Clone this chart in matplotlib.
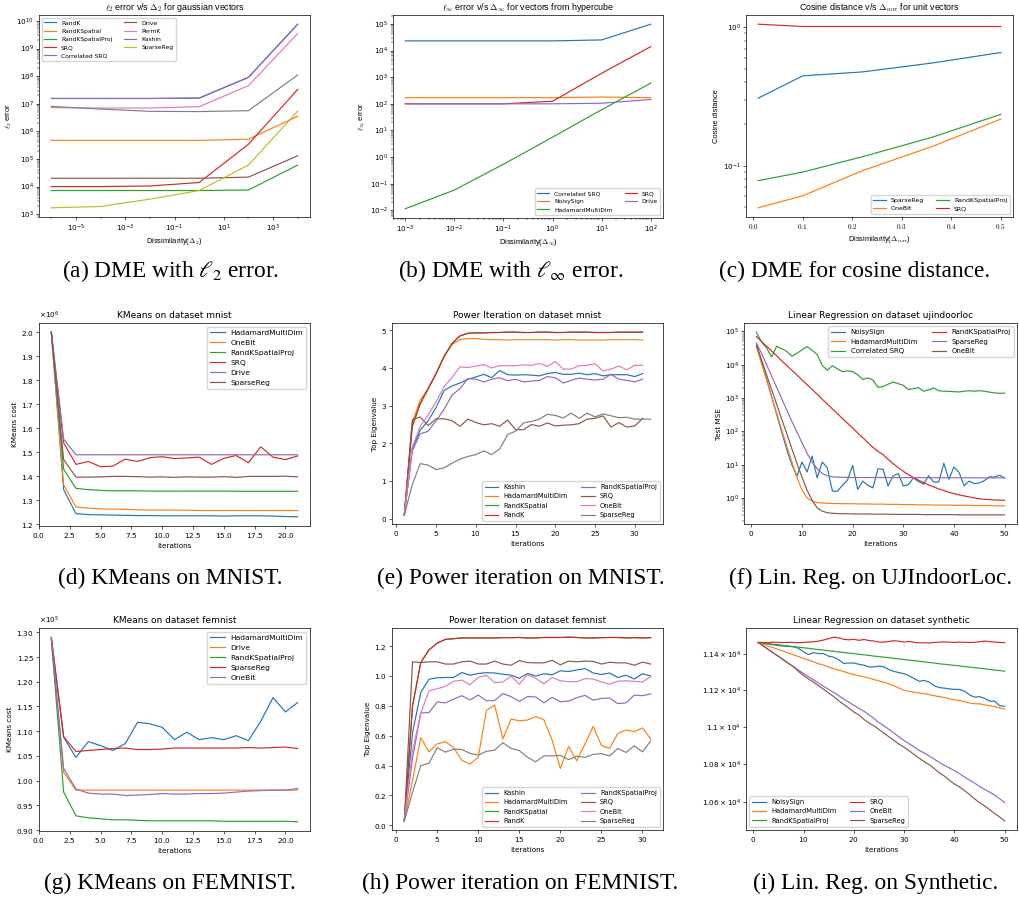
import matplotlib
matplotlib.use("Agg")
import matplotlib.pyplot as plt
from matplotlib.ticker import (LogLocator, NullFormatter, FixedLocator,
                               FixedFormatter, NullLocator, FuncFormatter)

# ---------------- data ----------------
# (a) l2 error vs Delta_2
a_x = [1e-6, 1e-4, 1e-2, 1e0, 1e2, 1e4]
a_names = ["RandK", "RandKSpatial", "RandKSpatialProj", "SRQ", "Correlated SRQ",
           "Drive", "PermK", "Kashin", "SparseReg"]
a_randk = [1.55e7, 1.55e7, 1.55e7, 1.6e7, 9e7, 7.6e9]
a_randkspatial = [4.7e5, 4.7e5, 4.7e5, 4.7e5, 5.2e5, 3.5e6]
a_randkspatialproj = [7.2e3, 7.2e3, 7.2e3, 7.2e3, 7.5e3, 6e4]
a_srq = [1.0e4, 1.0e4, 1.05e4, 1.4e4, 3.4e5, 3.3e7]
a_corr_srq = [1.55e7, 1.55e7, 1.55e7, 1.6e7, 9e7, 7.6e9]
a_drive = [2e4, 2e4, 2e4, 2e4, 2.2e4, 1.3e5]
a_permk = [7.2e6, 7.0e6, 7.0e6, 7.8e6, 4.5e7, 3.5e9]
a_kashin = [8e6, 6.4e6, 5.3e6, 5.2e6, 5.6e6, 1.1e8]
a_sparsereg = [1.7e3, 1.9e3, 3.5e3, 7.2e3, 6e4, 5.4e6]
a_xticks = [1e-5, 1e-3, 1e-1, 1e1, 1e3]

# (b) l_inf error vs Delta_inf
b_x = [1e-3, 1e-2, 1e-1, 1e0, 1e1, 1e2]
b_names = ["Correlated SRQ", "NoisySign", "HadamardMultiDim", "SRQ", "Drive"]
b_corr_srq = [2.3e4, 2.3e4, 2.3e4, 2.3e4, 2.5e4, 9.7e4]
b_noisysign = [170, 170, 170, 170, 180, 170]
b_hadamard = [0.0115, 0.058, 0.54, 5.6, 60, 600]
b_srq = [100, 100, 100, 125, 1400, 1.4e4]
b_drive = [100, 100, 100, 100, 105, 145]

# (c) cosine distance
c_x = [0.01, 0.1, 0.22, 0.36, 0.5]
c_names = ["SparseReg", "OneBit", "RandKSpatialProj", "SRQ"]
c_sparsereg = [0.307, 0.445, 0.475, 0.55, 0.656]
c_onebit = [0.0497, 0.0607, 0.092, 0.137, 0.217]
c_randkspatialproj = [0.078, 0.090, 0.116, 0.160, 0.235]
c_srq = [1.05, 1.01, 1.01, 1.01, 1.01]

# (d) KMeans mnist (x 1e6)
d_scale = 1e6
d_x = list(range(1, 22))
d_names = ["HadamardMultiDim", "OneBit", "RandKSpatialProj", "SRQ", "Drive", "SparseReg"]
d_hadamard = [2.0, 1.345, 1.245, 1.241, 1.24, 1.239, 1.238, 1.237, 1.237, 1.236, 1.236,
              1.236, 1.236, 1.236, 1.235, 1.236, 1.236, 1.236, 1.235, 1.233, 1.232]
d_onebit = [2.0, 1.365, 1.273, 1.268, 1.265, 1.264, 1.263, 1.261, 1.26, 1.26, 1.26,
            1.259, 1.258, 1.258, 1.258, 1.258, 1.258, 1.258, 1.258, 1.258, 1.258]
d_randkspatialproj = [2.0, 1.43, 1.35, 1.345, 1.342, 1.34, 1.34, 1.34, 1.339, 1.339, 1.339,
                      1.339, 1.339, 1.339, 1.339, 1.338, 1.338, 1.338, 1.338, 1.338, 1.338]
d_srq = [2.0, 1.54, 1.45, 1.462, 1.44, 1.443, 1.472, 1.462, 1.478, 1.482, 1.474,
         1.477, 1.48, 1.45, 1.475, 1.487, 1.457, 1.523, 1.48, 1.47, 1.485]
d_drive = [2.0, 1.555, 1.49, 1.49, 1.49, 1.49, 1.49, 1.49, 1.49, 1.49, 1.49,
           1.49, 1.49, 1.49, 1.49, 1.49, 1.49, 1.49, 1.49, 1.49, 1.49]
d_sparsereg = [2.0, 1.47, 1.397, 1.397, 1.398, 1.4, 1.4, 1.399, 1.397, 1.398, 1.396,
               1.398, 1.397, 1.397, 1.399, 1.396, 1.4, 1.4, 1.4, 1.401, 1.398]

# (e) Power iteration mnist
e_x = list(range(1, 32))
e_x_sparse = list(range(1, 33))
e_names = ["Kashin", "HadamardMultiDim", "RandKSpatial", "RandK",
           "RandKSpatialProj", "SRQ", "OneBit", "SparseReg"]
e_kashin = [0.1, 1.85, 2.35, 2.6, 2.95, 3.4, 3.52, 3.6, 3.7, 3.76, 3.83, 3.74, 3.93, 3.82,
            3.81, 3.82, 3.81, 3.79, 3.85, 3.88, 3.83, 3.83, 3.86, 3.82, 3.85, 3.79, 3.82,
            3.82, 3.82, 3.77, 3.85]
e_hadamard = [0.1, 2.55, 3.15, 3.45, 3.85, 4.3, 4.62, 4.75, 4.78, 4.78, 4.76, 4.75, 4.75,
              4.74, 4.75, 4.75, 4.75, 4.75, 4.75, 4.74, 4.75, 4.75, 4.74, 4.74, 4.74, 4.74,
              4.75, 4.75, 4.75, 4.75, 4.74]
e_randkspatial = [0.1, 2.45, 3.05, 3.45, 3.85, 4.3, 4.65, 4.85, 4.92, 4.93, 4.93, 4.94, 4.94,
                  4.95, 4.95, 4.94, 4.94, 4.95, 4.95, 4.94, 4.94, 4.95, 4.95, 4.95, 4.94,
                  4.94, 4.94, 4.95, 4.95, 4.95, 4.95]
e_randk = [0.1, 2.45, 3.05, 3.45, 3.85, 4.3, 4.65, 4.85, 4.92, 4.93, 4.93, 4.94, 4.94,
           4.95, 4.95, 4.94, 4.94, 4.95, 4.95, 4.94, 4.94, 4.95, 4.95, 4.95, 4.94,
           4.94, 4.94, 4.95, 4.95, 4.95, 4.95]
e_randkspatialproj = [0.1, 1.8, 2.25, 2.32, 2.6, 2.9, 3.28, 3.45, 3.72, 3.7, 3.63, 3.7, 3.74,
                      3.66, 3.7, 3.63, 3.65, 3.67, 3.77, 3.74, 3.6, 3.67, 3.73, 3.7, 3.68,
                      3.7, 3.83, 3.7, 3.67, 3.63, 3.7]
e_srq = [0.1, 2.62, 2.7, 2.47, 2.65, 2.65, 2.6, 2.45, 2.64, 2.55, 2.49, 2.52, 2.45, 2.62,
         2.36, 2.36, 2.5, 2.45, 2.54, 2.46, 2.48, 2.49, 2.52, 2.64, 2.66, 2.73, 2.43, 2.55,
         2.43, 2.46, 2.66]
e_onebit = [0.1, 1.9, 2.45, 2.75, 3.1, 3.5, 3.75, 4.03, 4.01, 4.05, 4.09, 4.0, 4.06, 4.06,
            4.06, 4.08, 4.07, 4.12, 4.04, 4.17, 3.97, 3.97, 4.06, 4.07, 4.11, 3.92, 3.97,
            4.05, 3.95, 4.07, 4.07]
e_sparsereg = [0.1, 0.9, 1.46, 1.42, 1.3, 1.35, 1.47, 1.58, 1.65, 1.7, 1.8, 1.7, 1.85, 2.23,
               2.32, 2.54, 2.58, 2.64, 2.77, 2.74, 2.67, 2.8, 2.66, 2.8, 2.7, 2.78, 2.73,
               2.68, 2.69, 2.64, 2.64, 2.64]

# (f) Linear regression ujindoorloc
f_x = list(range(1, 51))
f_names = ["NoisySign", "HadamardMultiDim", "Correlated SRQ",
           "RandKSpatialProj", "SparseReg", "OneBit"]
f_noisysign = [4.2e4, 1.3e4, 3.8e3, 1.1e3, 320, 95, 28, 10, 4.5, 12, 6, 18, 4, 12, 8, 1.6,
               1.6, 2.4, 3.5, 9.5, 1.8, 3.2, 2.4, 2.0, 7.5, 7.2, 2.3, 4.6, 5.4, 2.3, 2.5,
               4.0, 3.1, 2.6, 4.6, 3.0, 3.0, 11, 3.6, 8.5, 5.9, 2.3, 3.2, 2.7, 2.8, 3.3,
               4.3, 4.2, 4.8, 4.0]
f_hadamard = [3.5e4, 1.1e4, 3.5e3, 1.1e3, 350, 110, 36, 12, 4.2, 1.7, 1.0, 0.8, 0.73, 0.7,
              0.69, 0.68, 0.68, 0.67, 0.67, 0.67, 0.66, 0.66, 0.66, 0.65, 0.65, 0.65, 0.64,
              0.64, 0.64, 0.63, 0.63, 0.63, 0.62, 0.62, 0.62, 0.61, 0.61, 0.61, 0.61, 0.6,
              0.6, 0.6, 0.6, 0.59, 0.59, 0.59, 0.59, 0.58, 0.58, 0.58]
f_corr_srq = [9.5e4, 4.8e4, 3.2e4, 1.7e4, 3.6e4, 3.0e4, 2.5e4, 1.8e4, 2.2e4, 2.8e4, 3.5e4,
              2.7e4, 2.0e4, 9.5e3, 6.8e3, 9.3e3, 7.5e3, 6.2e3, 6.5e3, 6.2e3, 5.0e3, 3.6e3,
              4.0e3, 3.5e3, 2.1e3, 2.2e3, 2.6e3, 3.0e3, 2.7e3, 2.4e3, 1.8e3, 1.9e3, 2.05e3,
              1.6e3, 1.75e3, 2.0e3, 1.65e3, 1.6e3, 1.58e3, 1.55e3, 1.52e3, 1.6e3, 1.65e3,
              1.6e3, 1.65e3, 1.6e3, 1.5e3, 1.42e3, 1.38e3, 1.4e3]
f_randkspatialproj = [7.0e4, 5.0e4, 3.6e4, 2.6e4, 1.85e4, 1.3e4, 9.5e3, 6.8e3, 4.9e3, 3.5e3,
                      2.5e3, 1.8e3, 1.3e3, 920, 660, 470, 340, 240, 175, 125, 89, 64, 46,
                      33, 25, 20, 14.5, 10.7, 8.1, 6.3, 5.0, 4.1, 3.4, 2.9, 2.45, 2.15, 1.86,
                      1.66, 1.48, 1.35, 1.23, 1.15, 1.07, 1.0, 0.95, 0.91, 0.89, 0.87, 0.86,
                      0.85]
f_sparsereg = [4.5e4, 2.2e4, 1.0e4, 4.6e3, 2.1e3, 950, 430, 200, 95, 45, 22, 12, 7.5, 5.4,
               4.6, 4.3, 4.2, 4.15, 4.12, 4.1, 4.1, 4.1, 4.1, 4.1, 4.1, 4.09, 4.09, 4.08,
               4.08, 4.08, 4.07, 4.07, 4.06, 4.06, 4.05, 4.05, 4.05, 4.04, 4.04, 4.03, 4.03,
               4.03, 4.02, 4.02, 4.01, 4.01, 4.01, 4.0, 4.0, 4.0]
f_onebit = [3.8e4, 1.4e4, 5e3, 1.8e3, 650, 230, 85, 30, 11, 4.2, 1.7, 0.85, 0.5, 0.4, 0.36,
            0.345, 0.34, 0.335, 0.335, 0.33, 0.33, 0.33, 0.33, 0.325, 0.325, 0.325, 0.325,
            0.32, 0.32, 0.32, 0.32, 0.32, 0.32, 0.315, 0.315, 0.315, 0.315, 0.315, 0.315,
            0.315, 0.31, 0.31, 0.31, 0.31, 0.31, 0.31, 0.31, 0.31, 0.31, 0.31]

# (g) KMeans femnist (x 1e5)
g_scale = 1e5
g_x = list(range(1, 22))
g_names = ["HadamardMultiDim", "Drive", "RandKSpatialProj", "SparseReg", "OneBit"]
g_hadamard = [1.289, 1.088, 1.047, 1.079, 1.071, 1.061, 1.075, 1.118, 1.115, 1.108, 1.083,
              1.098, 1.083, 1.087, 1.083, 1.091, 1.081, 1.12, 1.168, 1.139, 1.158]
g_drive = [1.288, 1.017, 0.981, 0.981, 0.981, 0.981, 0.981, 0.981, 0.981, 0.981, 0.981,
           0.981, 0.981, 0.981, 0.981, 0.981, 0.981, 0.981, 0.981, 0.981, 0.981]
g_randkspatialproj = [1.285, 0.977, 0.929, 0.925, 0.923, 0.921, 0.921, 0.92, 0.919, 0.919,
                      0.919, 0.919, 0.919, 0.919, 0.918, 0.918, 0.918, 0.918, 0.918, 0.918,
                      0.917]
g_sparsereg = [1.29, 1.089, 1.059, 1.061, 1.063, 1.065, 1.066, 1.063, 1.063, 1.064, 1.066,
               1.066, 1.066, 1.066, 1.066, 1.066, 1.067, 1.066, 1.067, 1.068, 1.065]
g_onebit = [1.289, 1.025, 0.983, 0.975, 0.973, 0.973, 0.97, 0.971, 0.972, 0.974, 0.973,
            0.973, 0.974, 0.974, 0.975, 0.977, 0.979, 0.98, 0.981, 0.981, 0.984]

# (h) Power iteration femnist
h_x = list(range(1, 32))
h_names = ["Kashin", "HadamardMultiDim", "RandKSpatial", "RandK",
           "RandKSpatialProj", "SRQ", "OneBit", "SparseReg"]
h_kashin = [0.03, 0.62, 0.89, 0.978, 0.988, 0.99, 0.99, 1.023, 1.005, 1.017, 1.022, 1.02,
            1.012, 1.006, 0.985, 1.017, 1.0, 1.015, 1.008, 1.035, 1.03, 1.04, 1.05, 1.02,
            1.01, 1.02, 0.99, 1.005, 0.98, 1.015, 1.0]
h_hadamard = [0.03, 0.3, 0.587, 0.493, 0.545, 0.56, 0.52, 0.435, 0.41, 0.455, 0.77, 0.805,
              0.578, 0.712, 0.7, 0.705, 0.728, 0.707, 0.57, 0.38, 0.528, 0.432, 0.545, 0.662,
              0.535, 0.515, 0.615, 0.638, 0.628, 0.652, 0.578]
h_randkspatial = [0.03, 0.8, 1.09, 1.175, 1.22, 1.245, 1.25, 1.255, 1.255, 1.255, 1.255,
                  1.255, 1.257, 1.257, 1.258, 1.255, 1.255, 1.258, 1.258, 1.258, 1.26, 1.258,
                  1.255, 1.255, 1.257, 1.258, 1.258, 1.255, 1.257, 1.255, 1.257]
h_randk = [0.03, 0.8, 1.09, 1.175, 1.22, 1.245, 1.25, 1.255, 1.255, 1.255, 1.255,
           1.255, 1.257, 1.257, 1.258, 1.255, 1.255, 1.258, 1.258, 1.258, 1.26, 1.258,
           1.255, 1.255, 1.257, 1.258, 1.258, 1.255, 1.257, 1.255, 1.257]
h_randkspatialproj = [0.03, 0.45, 0.752, 0.755, 0.826, 0.82, 0.845, 0.868, 0.84, 0.872,
                      0.834, 0.836, 0.882, 0.862, 0.83, 0.862, 0.86, 0.82, 0.857, 0.828,
                      0.832, 0.855, 0.87, 0.838, 0.85, 0.852, 0.815, 0.82, 0.872, 0.868,
                      0.88]
h_srq = [0.03, 1.095, 1.09, 1.095, 1.095, 1.08, 1.08, 1.095, 1.1, 1.08, 1.08, 1.1, 1.08,
         1.072, 1.103, 1.09, 1.088, 1.088, 1.105, 1.075, 1.1, 1.095, 1.1, 1.098, 1.08,
         1.092, 1.088, 1.088, 1.072, 1.093, 1.08]
h_onebit = [0.03, 0.5, 0.75, 0.9, 0.915, 0.93, 0.965, 0.972, 0.942, 0.99, 1.005, 0.955,
            0.96, 1.0, 0.945, 1.01, 0.985, 0.948, 0.99, 0.968, 0.962, 0.962, 0.982, 0.98,
            0.96, 0.945, 0.965, 0.968, 0.964, 0.96, 0.995]
h_sparsereg = [0.03, 0.22, 0.4, 0.415, 0.52, 0.49, 0.51, 0.508, 0.482, 0.47, 0.496, 0.503,
               0.553, 0.515, 0.5, 0.456, 0.425, 0.465, 0.465, 0.468, 0.44, 0.462, 0.455,
               0.475, 0.48, 0.465, 0.515, 0.488, 0.532, 0.492, 0.565]

# (i) Linear regression synthetic
i_x = list(range(1, 51))
i_names = ["NoisySign", "HadamardMultiDim", "RandKSpatialProj", "SRQ", "OneBit", "SparseReg"]
i_noisysign = [11465, 11462, 11460, 11455, 11450, 11448, 11446, 11443, 11435, 11415, 11400,
               11410, 11405, 11405, 11390, 11385, 11370, 11350, 11352, 11352, 11345, 11340,
               11330, 11330, 11335, 11330, 11315, 11305, 11298, 11292, 11280, 11265, 11250,
               11255, 11245, 11225, 11215, 11212, 11208, 11205, 11205, 11195, 11175, 11162,
               11165, 11155, 11140, 11140, 11115, 11112]
i_hadamard = [11468, 11458, 11448, 11438, 11428, 11418, 11408, 11398, 11388, 11378, 11368,
              11358, 11348, 11340, 11330, 11320, 11312, 11304, 11295, 11287, 11281, 11275,
              11268, 11260, 11252, 11245, 11235, 11225, 11212, 11200, 11194, 11190, 11185,
              11181, 11176, 11170, 11165, 11160, 11154, 11148, 11143, 11137, 11130, 11126,
              11125, 11120, 11115, 11110, 11103, 11096]
i_randkspatialproj = [11468, 11465, 11461, 11458, 11455, 11451, 11448, 11445, 11441, 11438,
                      11435, 11431, 11428, 11425, 11421, 11418, 11414, 11411, 11408, 11405,
                      11401, 11398, 11395, 11391, 11388, 11385, 11382, 11378, 11375, 11372,
                      11368, 11365, 11362, 11358, 11355, 11352, 11348, 11345, 11342, 11339,
                      11336, 11332, 11329, 11326, 11323, 11320, 11316, 11313, 11310, 11306]
i_srq = [11468, 11468, 11467, 11470, 11468, 11468, 11469, 11468, 11467, 11468, 11470, 11472,
         11476, 11482, 11490, 11498, 11494, 11486, 11483, 11486, 11480, 11485, 11479, 11476,
         11470, 11470, 11474, 11478, 11475, 11470, 11474, 11469, 11466, 11466, 11465, 11468,
         11470, 11471, 11470, 11468, 11470, 11469, 11468, 11469, 11472, 11476, 11473, 11470,
         11468, 11467]
i_onebit = [11468, 11448, 11428, 11408, 11390, 11370, 11350, 11332, 11312, 11293, 11275,
            11258, 11240, 11222, 11205, 11188, 11170, 11152, 11135, 11117, 11100, 11085,
            11065, 11045, 11022, 11005, 10985, 10965, 10945, 10925, 10908, 10890, 10872,
            10858, 10842, 10825, 10808, 10792, 10778, 10764, 10748, 10730, 10714, 10698,
            10680, 10665, 10650, 10634, 10615, 10595]
i_sparsereg = [11468, 11448, 11428, 11408, 11390, 11370, 11350, 11330, 11305, 11282, 11262,
               11245, 11225, 11205, 11185, 11165, 11142, 11122, 11102, 11080, 11065, 11040,
               11020, 11005, 10985, 10965, 10945, 10925, 10905, 10889, 10870, 10850, 10830,
               10812, 10795, 10775, 10752, 10735, 10713, 10693, 10678, 10658, 10638, 10615,
               10595, 10578, 10558, 10538, 10520, 10500]
i_ticks = [10600, 10800, 11000, 11200, 11400]
i_ticklabels = [r"$1.06\times10^{4}$", r"$1.08\times10^{4}$", r"$1.1\times10^{4}$",
                r"$1.12\times10^{4}$", r"$1.14\times10^{4}$"]

captions = [r"(a) DME with $\ell_2$ error.", r"(b) DME with $\ell_\infty$ error.",
            "(c) DME for cosine distance.", "(d) KMeans on MNIST.",
            "(e) Power iteration on MNIST.", "(f) Lin. Reg. on UJIndoorLoc.",
            "(g) KMeans on FEMNIST.", "(h) Power iteration on FEMNIST.",
            "(i) Lin. Reg. on Synthetic."]

# ---------------- style ----------------
plt.rcParams.update({
    "font.size": 5.2,
    "axes.titlesize": 6.5,
    "axes.labelsize": 5.2,
    "xtick.labelsize": 5.2,
    "ytick.labelsize": 5.2,
    "legend.fontsize": 4.6,
    "lines.linewidth": 0.85,
    "axes.linewidth": 0.5,
    "xtick.major.size": 2.0, "ytick.major.size": 2.0,
    "xtick.minor.size": 1.1, "ytick.minor.size": 1.1,
    "xtick.major.width": 0.45, "ytick.major.width": 0.45,
    "xtick.minor.width": 0.35, "ytick.minor.width": 0.35,
    "xtick.major.pad": 1.8, "ytick.major.pad": 1.8,
    "axes.titlepad": 3.3,
    "axes.labelpad": 2.0,
    "axes.formatter.use_mathtext": True,
    "mathtext.fontset": "cm",
    "legend.handlelength": 2.0,
})

W, H = 1019, 902
fig = plt.figure(figsize=(W / 100, H / 100), dpi=100)
ROW1_FONT = "Liberation Sans"


def make_ax(l, t, r, b):
    return fig.add_axes([l / W, 1 - b / H, (r - l) / W, (b - t) / H])


def sans_math(ax):
    for lab in (ax.get_xticklabels(which="both") + ax.get_yticklabels(which="both")):
        lab.set_math_fontfamily("dejavusans")
    ax.yaxis.get_offset_text().set_math_fontfamily("dejavusans")
    ax.xaxis.get_offset_text().set_math_fontfamily("dejavusans")


def row1_text(ax, title, xlabel, ylabel):
    ax.set_title(title, family=ROW1_FONT, fontsize=6.4)
    ax.set_xlabel(xlabel, family=ROW1_FONT, fontsize=5.4)
    ax.set_ylabel(ylabel, family=ROW1_FONT, fontsize=5.4)


# (a)
ax = make_ax(39, 15, 310, 217)
for n, v in zip(a_names, [a_randk, a_randkspatial, a_randkspatialproj, a_srq, a_corr_srq,
                          a_drive, a_permk, a_kashin, a_sparsereg]):
    ax.plot(a_x, v, label=n)
ax.set_xscale("log"); ax.set_yscale("log")
ax.xaxis.set_major_locator(FixedLocator(a_xticks))
ax.xaxis.set_minor_locator(LogLocator(base=10, subs=(1.0,), numticks=40))
ax.xaxis.set_minor_formatter(NullFormatter())
ax.yaxis.set_major_locator(LogLocator(base=10, numticks=30))
ax.yaxis.set_minor_locator(LogLocator(base=10, subs=tuple(range(2, 10)), numticks=30))
ax.yaxis.set_minor_formatter(NullFormatter())
row1_text(ax, r"$\ell_2$ error v/s $\Delta_2$ for gaussian vectors",
          r"Dissimilarity($\Delta_2$)", r"$\ell_2$ error")
ax.legend(loc="upper left", ncol=2, fontsize=4.3)

# (b)
ax = make_ax(393, 15, 663, 218)
for n, v in zip(b_names, [b_corr_srq, b_noisysign, b_hadamard, b_srq, b_drive]):
    ax.plot(b_x, v, label=n)
ax.set_xscale("log"); ax.set_yscale("log")
ax.xaxis.set_major_locator(LogLocator(base=10, numticks=30))
ax.yaxis.set_major_locator(LogLocator(base=10, numticks=30))
for axis in (ax.xaxis, ax.yaxis):
    axis.set_minor_locator(LogLocator(base=10, subs=tuple(range(2, 10)), numticks=30))
    axis.set_minor_formatter(NullFormatter())
row1_text(ax, r"$\ell_\infty$ error v/s $\Delta_\infty$ for vectors from hypercube",
          r"Dissimilarity($\Delta_\infty$)", r"$\ell_\infty$ error")
ax.legend(loc="lower right", ncol=2, fontsize=4.35)

# (c)
ax = make_ax(746, 15, 1013, 217)
for n, v in zip(c_names, [c_sparsereg, c_onebit, c_randkspatialproj, c_srq]):
    ax.plot(c_x, v, label=n)
ax.set_yscale("log")
ax.yaxis.set_minor_formatter(NullFormatter())
ax.xaxis.set_major_formatter(FuncFormatter(lambda v, p: "$%.1f$" % v))
row1_text(ax, r"Cosine distance v/s $\Delta_{\mathrm{corr}}$ for unit vectors",
          r"Dissimilarity($\Delta_{\mathrm{corr}}$)", "Cosine distance")
ax.legend(loc="lower right", ncol=2, fontsize=4.5)

# (d)
ax = make_ax(39, 323, 310, 526)
for n, v in zip(d_names, [d_hadamard, d_onebit, d_randkspatialproj, d_srq, d_drive,
                          d_sparsereg]):
    ax.plot(d_x, [u * d_scale for u in v], label=n)
ax.set_title("KMeans on dataset mnist")
ax.set_xlabel("Iterations")
ax.set_ylabel("KMeans cost")
ax.legend(loc="upper right", fontsize=5.4)
sans_math(ax)

# (e)
ax = make_ax(392, 323, 663, 524)
for n, v in zip(e_names[:7], [e_kashin, e_hadamard, e_randkspatial, e_randk,
                              e_randkspatialproj, e_srq, e_onebit]):
    ax.plot(e_x, v, label=n)
ax.plot(e_x_sparse, e_sparsereg, label=e_names[7])
ax.set_title("Power Iteration on dataset mnist")
ax.set_xlabel("Iterations")
ax.set_ylabel("Top Eigenvalue")
ax.legend(loc="lower right", ncol=2, fontsize=4.8)
sans_math(ax)

# (f)
ax = make_ax(744, 323, 1017, 524)
for n, v in zip(f_names, [f_noisysign, f_hadamard, f_corr_srq, f_randkspatialproj,
                          f_sparsereg, f_onebit]):
    ax.plot(f_x, v, label=n)
ax.set_yscale("log")
ax.yaxis.set_major_locator(LogLocator(base=10, numticks=30))
ax.yaxis.set_minor_locator(LogLocator(base=10, subs=tuple(range(2, 10)), numticks=30))
ax.yaxis.set_minor_formatter(NullFormatter())
ax.set_title("Linear Regression on dataset ujindoorloc")
ax.set_xlabel("Iterations")
ax.set_ylabel("Test MSE")
ax.legend(loc="upper right", ncol=2, fontsize=5.0)
sans_math(ax)

# (g)
ax = make_ax(39, 628, 310, 831)
for n, v in zip(g_names, [g_hadamard, g_drive, g_randkspatialproj, g_sparsereg, g_onebit]):
    ax.plot(g_x, [u * g_scale for u in v], label=n)
ax.ticklabel_format(axis="y", style="sci", scilimits=(0, 0), useMathText=True)
ax.set_title("KMeans on dataset femnist")
ax.set_xlabel("Iterations")
ax.set_ylabel("KMeans cost")
ax.legend(loc="upper right", fontsize=5.4)
sans_math(ax)

# (h)
ax = make_ax(392, 628, 663, 830)
for n, v in zip(h_names, [h_kashin, h_hadamard, h_randkspatial, h_randk,
                          h_randkspatialproj, h_srq, h_onebit, h_sparsereg]):
    ax.plot(h_x, v, label=n)
ax.set_title("Power Iteration on dataset femnist")
ax.set_xlabel("Iterations")
ax.set_ylabel("Top Eigenvalue")
ax.legend(loc="lower right", ncol=2, fontsize=4.8)
sans_math(ax)

# (i)
ax = make_ax(746, 628, 1017, 830)
for n, v in zip(i_names, [i_noisysign, i_hadamard, i_randkspatialproj, i_srq, i_onebit,
                          i_sparsereg]):
    ax.plot(i_x, v, label=n)
ax.set_yscale("log")
ax.yaxis.set_major_locator(FixedLocator(i_ticks))
ax.yaxis.set_major_formatter(FixedFormatter(i_ticklabels))
ax.yaxis.set_minor_locator(NullLocator())
ax.set_title("Linear Regression on dataset synthetic")
ax.set_xlabel("Iterations")
ax.legend(loc="lower left", ncol=2, fontsize=4.9)
sans_math(ax)

# captions
cap_pos = [(171, 271), (511, 271), (855, 271), (170, 578), (521, 578), (871, 578),
           (170, 883), (520, 883), (876, 883)]
for (cx, cy), txt in zip(cap_pos, captions):
    fig.text(cx / W, 1 - cy / H, txt, ha="center", va="center",
             family="Liberation Serif", fontsize=16.8, math_fontfamily="stix")

fig.savefig("out.png", dpi=100)
